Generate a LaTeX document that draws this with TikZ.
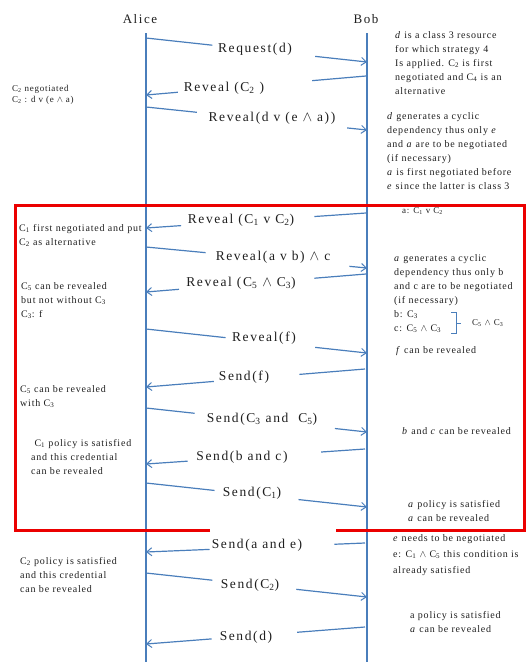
\documentclass[tikz,border=0pt]{standalone}
\usepackage{fontspec}
\setmainfont{Liberation Serif}
\newfontfamily\lsfont[LetterSpace=12]{Liberation Serif}
\newfontfamily\nsfont[LetterSpace=8]{Liberation Serif}
\usetikzlibrary{arrows.meta,calc}
\definecolor{lineblue}{RGB}{74,126,187}
\definecolor{boxred}{RGB}{235,0,0}
\definecolor{textgray}{RGB}{30,30,30}
\newcommand\sbs[1]{\textsubscript{#1}}
\newcommand\drawmsg[7]{%
  \coordinate (#1s) at #2; \coordinate (#1e) at #3;
  \draw[msgline] (#1s) -- ($(#1s)!#4!(#1e)$);
  \draw[msgarrow] ($(#1s)!#5!(#1e)$) -- (#1e);
  \node[msglabel] (#1) at #6 {#7};}
\begin{document}
\begin{tikzpicture}[
  x=1pt, y=-1pt,
  lifeline/.style={draw=lineblue, line width=1.4pt},
  msgline/.style={draw=lineblue, line width=1.2pt},
  msgarrow/.style={msgline, -{Straight Barb[length=5pt,width=8pt,line width=1pt]}},
  msglabel/.style={font=\lsfont\fontsize{13.5}{15}\selectfont, inner sep=0pt, text=textgray},
  actor/.style={font=\lsfont\fontsize{13}{15}\selectfont, inner sep=0pt, text=textgray},
  note/.style={font=\nsfont\fontsize{10}{14}\selectfont, align=left, anchor=north west, inner sep=0pt, text=textgray},
  smallnote/.style={font=\nsfont\fontsize{9}{11}\selectfont, align=left, anchor=north west, inner sep=0pt, text=textgray},
  redbox/.style={draw=boxred, line width=3pt},
  brace/.style={draw=lineblue, line width=1pt}
]
\useasboundingbox (0,0) rectangle (527,662);

% actors and lifelines
\node[actor] (alice) at (140,19) {Alice};
\node[actor] (bob) at (366,19) {Bob};
\coordinate (alicetop) at (146,33); \coordinate (alicebot) at (146,662);
\coordinate (bobtop) at (367,33); \coordinate (bobbot) at (367,662);
\draw[lifeline] (alicetop) -- (alicebot);
\draw[lifeline] (bobtop) -- (bobbot);

% red frame with gap at the bottom
\coordinate (r1) at (210,530); \coordinate (r2) at (15,530);
\coordinate (r3) at (15,205); \coordinate (r4) at (524,205);
\coordinate (r5) at (524,530); \coordinate (r6) at (336,530);
\draw[redbox] (r1) -- (r2) -- (r3) -- (r4) -- (r5) -- (r6);

% messages
\drawmsg{m1}{(146,38)}{(367,62)}{0.30}{0.765}{(255,49)}{Request(d)}
\drawmsg{m2}{(366,76)}{(146,95)}{0.245}{0.855}{(224,88)}{Reveal (C\sbs{2} )}
\drawmsg{m3}{(146,107)}{(367,130)}{0.23}{0.91}{(272,118)}{Reveal(d v (e $\wedge$ a))}
\drawmsg{m4}{(366,213)}{(146,228)}{0.235}{0.84}{(241,220)}{Reveal (C\sbs{1} v C\sbs{2})}
\drawmsg{m5}{(146,247)}{(367,268)}{0.27}{0.92}{(273,257)}{Reveal(a v b) $\wedge$ c}
\drawmsg{m6}{(366,274)}{(146,292)}{0.235}{0.85}{(241,283)}{Reveal (C\sbs{5} $\wedge$ C\sbs{3})}
\drawmsg{m7}{(146,329)}{(367,353)}{0.36}{0.765}{(264,338)}{Reveal(f)}
\drawmsg{m8}{(365,369)}{(146,387)}{0.30}{0.69}{(244,377)}{Send(f)}
\drawmsg{m9}{(146,408)}{(367,432)}{0.22}{0.855}{(262,419)}{Send(C\sbs{3} and\ \ C\sbs{5})}
\drawmsg{m10}{(365,449)}{(146,464)}{0.20}{0.81}{(242,457)}{Send(b and c)}
\drawmsg{m11}{(146,483)}{(367,507)}{0.31}{0.69}{(252,493)}{Send(C\sbs{1})}
\drawmsg{m12}{(365,543)}{(146,552)}{0.14}{0.71}{(257,545)}{Send(a and e)}
\drawmsg{m13}{(146,573)}{(367,597)}{0.30}{0.68}{(250,585)}{Send(C\sbs{2})}
\drawmsg{m14}{(365,627)}{(146,644)}{0.31}{0.70}{(246,637)}{Send(d)}

% right notes
\node[note] (r1n) at (395,31) {\textit{d} is a class 3 resource\\for which strategy 4\\Is applied. C\sbs{2} is first\\negotiated and C\sbs{4} is an\\alternative};
\node[note] (r2n) at (387,112) {\textit{d} generates a cyclic\\dependency thus only \textit{e}\\and \textit{a} are to be negotiated\\(if necessary)\\\textit{a} is first negotiated before\\\textit{e} since the latter is class 3};
\node[smallnote] (r3n) at (402,207) {a: C\sbs{1} v C\sbs{2}};
\node[note] (r4n) at (394,254) {\textit{a} generates a cyclic\\dependency thus only b\\and c are to be negotiated\\(if necessary)\\b: C\sbs{3}\\c: C\sbs{5} $\wedge$ C\sbs{3}};
\coordinate (bra1) at (451,312); \coordinate (bra2) at (456,312);
\coordinate (bra3) at (456,333); \coordinate (bra4) at (451,333);
\coordinate (bra5) at (456,323); \coordinate (bra6) at (461,323);
\draw[brace] (bra1) -- (bra2) -- (bra3) -- (bra4);
\draw[brace] (bra5) -- (bra6);
\node[smallnote, anchor=west] (r4b) at (472,323) {C\sbs{5} $\wedge$ C\sbs{3}};
\node[note] (r5n) at (396,346) {\textit{f} can be revealed};
\node[note] (r6n) at (402,427) {\textit{b} and \textit{c} can be revealed};
\node[note] (r7n) at (408,500) {\textit{a} policy is satisfied\\\textit{a} can be revealed};
\node[note, font=\nsfont\fontsize{10}{16}\selectfont] (r8n) at (393,534) {\textit{e} needs to be negotiated\\e: C\sbs{1} $\wedge$ C\sbs{5} this condition is\\already satisfied};
\node[note] (r9n) at (410,611) {a policy is satisfied\\\textit{a} can be revealed};

% left notes
\node[smallnote] (l1n) at (12,85) {C\sbs{2} negotiated\\C\sbs{2} : d v (e $\wedge$ a)};
\node[note] (l2n) at (19,224) {C\sbs{1} first negotiated and put\\C\sbs{2} as alternative};
\node[note] (l3n) at (21,282) {C\sbs{5} can be revealed\\but not without C\sbs{3}\\C\sbs{3}: f};
\node[note] (l4n) at (20,385) {C\sbs{5} can be revealed\\with C\sbs{3}};
\node[note] (l5n) at (31,439) {\ C\sbs{1} policy is satisfied\\and this credential\\can be revealed};
\node[note] (l6n) at (20,557) {C\sbs{2} policy is satisfied\\and this credential\\can be revealed};
\end{tikzpicture}
\end{document}
